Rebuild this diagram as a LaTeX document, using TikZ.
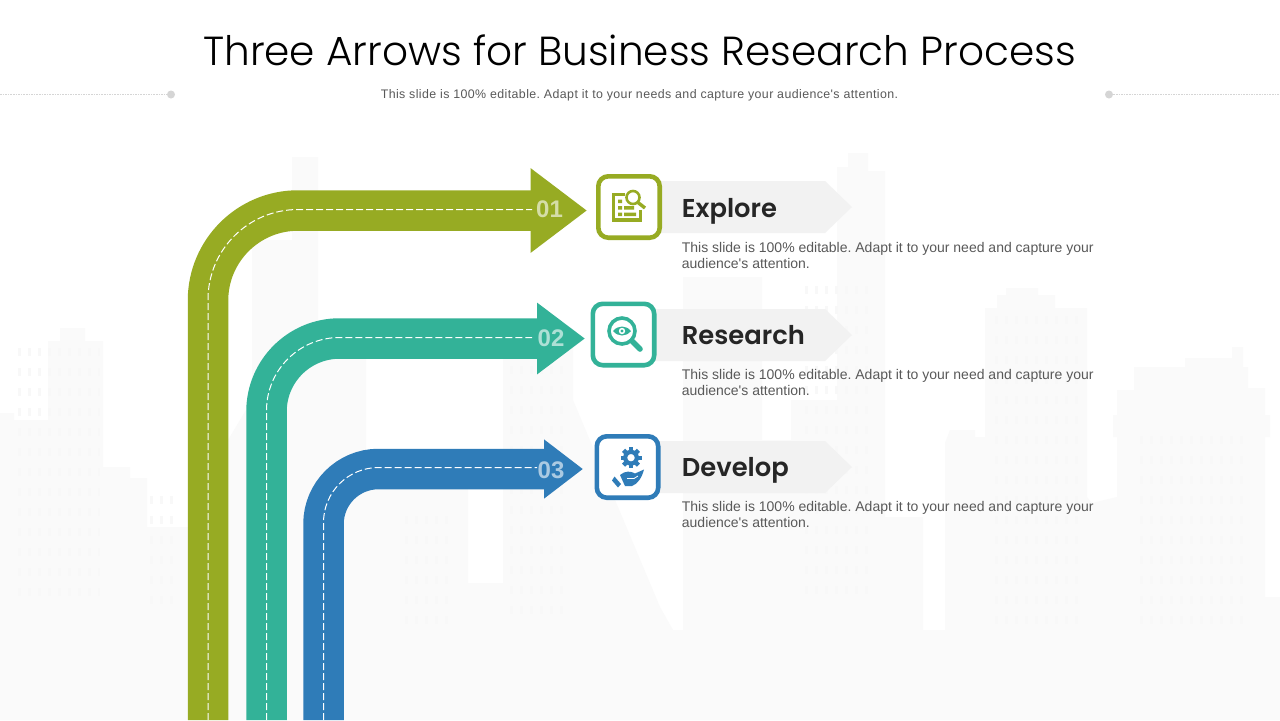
\documentclass[tikz,border=0pt]{standalone}
\usepackage{fontspec}
\setmainfont{Liberation Sans}[Ligatures=TeXOff]
\newfontfamily\headfont[UprightFont=* Light,BoldFont=* SemiBold]{Poppins}
\usetikzlibrary{arrows.meta,positioning,shapes.geometric}
\definecolor{arrowolive}{HTML}{97AB23}
\definecolor{arrowteal}{HTML}{33B298}
\definecolor{arrowblue}{HTML}{2F7CB8}
\definecolor{skyfill}{HTML}{FAFAFA}
\definecolor{skywin}{HTML}{F8F8F8}
\definecolor{tagfill}{HTML}{F2F2F2}
\definecolor{ruleline}{HTML}{D5D5D5}
\definecolor{bodytext}{HTML}{595959}
\definecolor{headtextc}{HTML}{262626}
\tikzset{
  slidetitle/.style={inner sep=0pt, text=black, font=\headfont\fontsize{20.3}{26}\selectfont},
  slidesub/.style={inner sep=0pt, text=bodytext, font=\fontsize{6.2}{8}\selectfont},
  ruledot/.style={circle, fill=ruleline, inner sep=0pt, minimum size=4pt},
  ruleconn/.style={ruleline, line width=.35pt, dash pattern=on .8pt off .5pt},
  flowline/.style={line width=20.25pt},
  midline/.style={white, line width=.5pt, dash pattern=on 3.5pt off 1.5pt},
  numtext/.style={inner sep=0pt, text=white, text opacity=.6, font=\bfseries\fontsize{12}{14}\selectfont},
  iconbox/.style={rectangle, rounded corners=5pt, draw, fill=white, line width=2.3pt, minimum size=30.7pt, inner sep=0pt},
  headtext/.style={inner sep=0pt, anchor=base west, text=headtextc, font=\headfont\bfseries\fontsize{12.9}{16}\selectfont},
  desctext/.style={inner sep=0pt, align=left, text=bodytext, font=\fontsize{7}{8}\selectfont},
  skyrow/.style={skywin, line width=4pt, dash pattern=on 1.5pt off 3.5pt},
}
\frenchspacing
\begin{document}
\begin{tikzpicture}[x=.5pt,y=-.5pt]
\path[fill=white, use as bounding box] (0,0) rectangle (1280,720);

% skyline
\fill[skyfill] (0,720) -- (0,413) -- (14,413) -- (14,420) -- (48,420) -- (48,341) -- (60,341) -- (60,328)
  -- (85,328) -- (85,341) -- (103,341) -- (103,467) -- (130,467) -- (130,478) -- (147,478) -- (147,527)
  -- (210,527) -- (228,440) -- (246,410) -- (252,410) -- (252,240) -- (292,240) -- (292,157) -- (318,157)
  -- (318,330) -- (366,330) -- (366,470) -- (468,470) -- (468,583) -- (503,583) -- (503,345) -- (573,345)
  -- (573,400) -- (660,607) -- (673,630) -- (683,630) -- (683,277) -- (762,277) -- (762,440) -- (791,440)
  -- (791,400) -- (837,400) -- (837,167) -- (848,167) -- (848,153) -- (868,153) -- (868,171) -- (885,171)
  -- (885,517) -- (923,517) -- (923,630) -- (945,630) -- (945,443) -- (950,430) -- (975,430) -- (975,437)
  -- (985,437) -- (985,308) -- (997,308) -- (997,295) -- (1006,295) -- (1006,288) -- (1038,288) -- (1038,295)
  -- (1055,295) -- (1055,308) -- (1087,308) -- (1087,497) -- (1092,503) -- (1117,497) -- (1117,437)
  -- (1113,437) -- (1113,415) -- (1117,415) -- (1117,390) -- (1134,390) -- (1134,367) -- (1185,367)
  -- (1185,358) -- (1232,358) -- (1232,347) -- (1243,347) -- (1243,367) -- (1248,367) -- (1248,388)
  -- (1265,388) -- (1265,415) -- (1270,415) -- (1270,437) -- (1265,437) -- (1265,597) -- (1280,597)
  -- (1280,720) -- cycle;
\foreach \wy in {352,372,...,592} \draw[skyrow] (18,\wy) -- (100,\wy);
\foreach \wy in {500,520,...,600} \draw[skyrow] (150,\wy) -- (180,\wy);
\foreach \wy in {520,540,...,620} \draw[skyrow] (405,\wy) -- (450,\wy);
\foreach \wy in {370,390,...,610} \draw[skyrow] (510,\wy) -- (565,\wy);
\foreach \wy in {290,310,...,590} \draw[skyrow] (805,\wy) -- (875,\wy);
\foreach \wy in {320,340,...,620} \draw[skyrow] (995,\wy) -- (1080,\wy);
\foreach \wy in {440,460,...,620} \draw[skyrow] (1140,\wy) -- (1250,\wy);

% header
\node[slidetitle] (title) at (639.5,50) {Three Arrows for Business Research Process};
\node[slidesub] (sub) at (639.5,95) {\addfontfeature{LetterSpace=3.2}This slide is 100\% editable. Adapt it to your needs and capture your audience's attention.};
\node[ruledot] (dotl) at (171,94.5) {};
\node[ruledot] (dotr) at (1109,94.5) {};
\coordinate (edgel) at (0,94.5);
\coordinate (edger) at (1280,94.5);
\draw[ruleconn] (edgel) -- (dotl);
\draw[ruleconn] (dotr) -- (edger);

% tags
\fill[tagfill] (650,181) -- (825,181) -- (852,207) -- (825,233) -- (650,233) -- cycle;
\fill[tagfill] (645,309) -- (825,309) -- (852,335) -- (825,361) -- (645,361) -- cycle;
\fill[tagfill] (650,441) -- (825,441) -- (852,467) -- (825,493) -- (650,493) -- cycle;

% arrows
\coordinate (foot1) at (208,720);
\coordinate (foot2) at (266.5,720);
\coordinate (foot3) at (323.5,720);
\coordinate (tip1) at (587,210.5);
\coordinate (tip2) at (585,338.5);
\coordinate (tip3) at (583,469);
\coordinate (dash1) at (532,209.5);
\coordinate (dash2) at (532,337.5);
\coordinate (dash3) at (537,467.5);
\draw[flowline, arrowolive, rounded corners=45pt, -{Triangle[length=28.25pt,width=40.5pt]}] (foot1) |- (tip1);
\draw[flowline, arrowteal, rounded corners=36.5pt, -{Triangle[length=24pt,width=34.25pt]}] (foot2) |- (tip2);
\draw[flowline, arrowblue, rounded corners=27.5pt, -{Triangle[length=19.5pt,width=28.3pt]}] (foot3) |- (tip3);
\draw[midline, rounded corners=45pt] (foot1) |- (dash1);
\draw[midline, rounded corners=36.5pt] (foot2) |- (dash2);
\draw[midline, rounded corners=27.5pt] (foot3) |- (dash3);
\node[numtext] (num1) at (549.5,209) {01};
\node[numtext] (num2) at (551,338.5) {02};
\node[numtext] (num3) at (551,470) {03};

% icon boxes
\node[iconbox, draw=arrowolive] (box1) at (629,207) {};
\node[iconbox, draw=arrowteal] (box2) at (623.5,334.5) {};
\node[iconbox, draw=arrowblue] (box3) at (627.5,467) {};

% icon 1
\draw[arrowolive, line width=1.6pt] (625,194.5) -- (613.5,194.5) -- (613.5,220) -- (640.5,220) -- (640.5,210);
\fill[arrowolive] (618,199.5) rectangle (622,203) (618,206) rectangle (622,209.5) (624,206) rectangle (634,209.5)
  (618,212.5) rectangle (622,216) (624,212.5) rectangle (636,216);
\draw[arrowolive, line width=1.3pt] (633,197.5) circle (6.5);
\draw[arrowolive, line width=1.7pt] (638,202.5) -- (645,208);

% icon 2
\draw[arrowteal, line width=1.8pt] (622,331) circle (13);
\draw[arrowteal, line width=2.8pt, line cap=round] (632,341) -- (640,349);
\fill[arrowteal] (613,331) .. controls (618,325) and (626,325) .. (631,331) .. controls (626,337) and (618,337) .. (613,331) -- cycle;
\fill[white] (622,331) circle (3.2);
\fill[arrowteal] (622,331) circle (1.6);

% icon 3
\begin{scope}[shift={(631,457.7)}]
  \draw[arrowblue, line width=2.1pt] (0,0) circle (5.8);
  \foreach \ang in {0,45,...,315} \draw[arrowblue, line width=2.2pt] (\ang:6) -- (\ang:10.5);
\end{scope}
\fill[arrowblue] (620,475) .. controls (625,470.5) and (631,471) .. (635,473.5) -- (644,469.5) .. controls (642,477) and (638,484) .. (632,486) -- (625,486) -- cycle;
\fill[arrowblue] (614.5,476.5) -- (621,484) -- (618,487.5) -- (612,480.5) -- cycle;
\draw[white, line width=.4pt] (627,478.5) -- (634,478.5) -- (638,476);

% labels
\node[headtext] (explore) at (681.5,217) {Explore};
\node[headtext] (research) at (681.5,344.5) {Research};
\node[headtext] (develop) at (681.5,476.5) {Develop};
\node[desctext, below=12.3pt of explore.base west, anchor=north west] (desc1) {This slide is 100\% editable. Adapt it to your need and capture your\\audience's attention.};
\node[desctext, below=12.3pt of research.base west, anchor=north west] (desc2) {This slide is 100\% editable. Adapt it to your need and capture your\\audience's attention.};
\node[desctext, below=12.3pt of develop.base west, anchor=north west] (desc3) {This slide is 100\% editable. Adapt it to your need and capture your\\audience's attention.};
\end{tikzpicture}
\end{document}
